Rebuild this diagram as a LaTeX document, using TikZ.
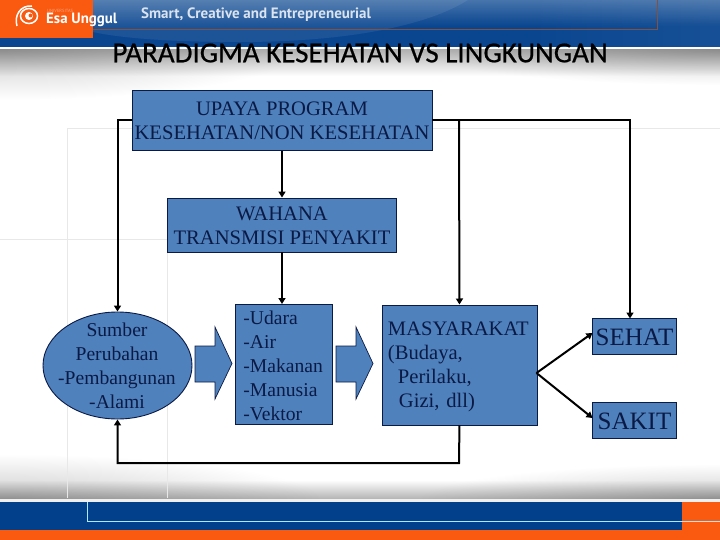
\documentclass[tikz,border=0pt]{standalone}
\usepackage{fontspec}
\setmainfont{Liberation Serif}
\newfontfamily\titlefont[FakeBold=0.6]{Carlito}
\newfontfamily\headfont{PT Sans}
\usetikzlibrary{arrows.meta,shapes.geometric,fadings}
\definecolor{boxblue}{HTML}{4F81BD}
\definecolor{navy}{HTML}{0B1A45}
\definecolor{headblue}{HTML}{0A4690}
\definecolor{headlight}{HTML}{5F88B4}
\definecolor{footblue}{HTML}{03408B}
\definecolor{esaorange}{HTML}{F95A10}
\pgfdeclarehorizontalshading{headshade}{100bp}{color(0bp)=(headblue); color(62bp)=(headblue); color(80bp)=(headblue!80!headlight); color(100bp)=(headlight)}
\tikzfading[name=fadedown, top color=transparent!75, bottom color=transparent!100]
\tikzfading[name=glow, inner color=transparent!80, outer color=transparent!100]
\tikzset{
  x=1pt,y=1pt,
  flowbox/.style={draw=navy,line width=0.9pt,fill=boxblue,text=navy,inner sep=0pt,align=center,font=\fontsize{20.6}{24}\selectfont},
  flowlabel/.style={text=navy,inner sep=0pt,align=center,font=\fontsize{19.6}{24}\selectfont},
  link/.style={draw=black,line width=2pt,-{Triangle[length=6pt,width=7pt]}},
  faint/.style={draw=black!9,line width=1pt},
  blockarrow/.style={draw=navy,line width=0.7pt,fill=boxblue}
}
\begin{document}
\begin{tikzpicture}
\useasboundingbox (0,0) rectangle (720,-540);
\fill[white] (0,0) rectangle (720,-540);
% header band
\shade[shading=headshade] (0,0) rectangle (720,-47);
\fill[white,path fading=fadedown] (0,0) rectangle (720,-26);
\fill[white,opacity=.08] (93,0) -- (468,0) .. controls (420,-30) and (330,-42) .. (240,-42) .. controls (170,-42) and (120,-38) .. (93,-32) -- cycle;
\draw[draw=black!45!headlight!60!esaorange,line width=1pt] (93,-30) -- (657,-30) -- (657,0);
\fill[esaorange] (0,0) rectangle (93,-38);
\fill[white] (0,-47.5) rectangle (720,-50);
% grey gradient below header
\shade[top color=black!30,bottom color=white] (0,-50) rectangle (720,-76);
\begin{scope}
\clip (0,-50) rectangle (720,-120);
\fill[black,path fading=glow,fit fading=true] (0,-50) ellipse[x radius=300,y radius=50];
\fill[black,path fading=glow,fit fading=true] (720,-50) ellipse[x radius=300,y radius=35];
\end{scope}
% bottom gradient
\shade[top color=white,bottom color=black!30] (0,-480) rectangle (720,-499);
\begin{scope}
\clip (0,-420) rectangle (720,-499);
\fill[black,path fading=glow,fit fading=true] (0,-499) ellipse[x radius=320,y radius=45];
\fill[black,path fading=glow,fit fading=true] (720,-499) ellipse[x radius=300,y radius=35];
\end{scope}
\fill[black!6] (0,-498.5) rectangle (720,-502);
% faint frame
\draw[faint] (720,-129) -- (67,-129) -- (67,-498);
\draw[faint] (0,-239) -- (167,-239) -- (167,-498);
% footer
\fill[footblue] (0,-502) rectangle (682,-530);
\fill[esaorange] (682,-502) rectangle (720,-530);
\fill[esaorange] (0,-530) rectangle (720,-540);
\draw[draw=blue!30!cyan!30!white,line width=1pt] (87.5,-502) -- (87.5,-521.5) -- (720,-521.5);
% logo
\draw[white,line width=1.5pt] (29,-16) ellipse[x radius=8.5,y radius=7.5];
\fill[white] (29,-16) circle[radius=4];
\fill[esaorange] (30.5,-15.5) circle[radius=2];
\draw[white,line width=1.5pt] (32,-6) .. controls (20,-5) and (14,-16) .. (17,-26);
\node[anchor=west,inner sep=0pt,text=esaorange!55!white,font=\headfont\fontsize{4.5}{5}\selectfont] (univ) at (47,-10.5) {UNIVERSITAS};
\node[anchor=west,inner sep=0pt,text=white,font=\headfont\bfseries\fontsize{14.9}{16}\selectfont] (esa) at (46,-20) {Esa Unggul};
\node[anchor=west,inner sep=0pt,text=white!85!headblue,font=\headfont\bfseries\fontsize{15}{17}\selectfont] (motto) at (141,-15) {Smart, Creative and Entrepreneurial};
% title
\node[inner sep=0pt,text=black,font=\titlefont\fontsize{29}{32}\selectfont] (title) at (360,-53) {PARADIGMA KESEHATAN VS LINGKUNGAN};
% nodes
\node[flowbox,minimum width=300pt,minimum height=60pt] (program) at (282,-120.5) {UPAYA PROGRAM\\KESEHATAN/NON KESEHATAN};
\node[flowbox,minimum width=228.5pt,minimum height=54pt] (wahana) at (282,-225) {\rule{0pt}{16pt}WAHANA\\TRANSMISI PENYAKIT};
\node[draw=navy,line width=0.9pt,fill=boxblue,ellipse,inner sep=0pt,minimum width=149pt,minimum height=107pt] (sumber) at (117.5,-365.5) {};
\node[flowlabel] (sumbertext) at (117,-365.5) {Sumber\\Perubahan\\-Pembangunan\\-Alami};
\node[flowbox,font=\fontsize{19.6}{24}\selectfont,minimum width=97pt,minimum height=120pt,align=left,anchor=north west,text width=81pt,inner xsep=8pt] (media) at (235,-304) {\rule{0pt}{15.5pt}-Udara\\-Air\\-Makanan\\-Manusia\\-Vektor};
\node[flowbox,minimum width=155pt,minimum height=120pt,align=left,anchor=north west,text width=143pt,inner xsep=6pt] (masyarakat) at (381.5,-304.5) {\rule{0pt}{17pt}MASYARAKAT\\(Budaya,\\\hspace*{10pt}Perilaku,\\\hspace*{11pt}Gizi, dll)};
\node[flowbox,minimum width=84pt,minimum height=35.5pt,font=\fontsize{25}{26}\selectfont] (sehat) at (634.5,-336.25) {\rule{0pt}{18.5pt}SEHAT};
\node[flowbox,minimum width=84pt,minimum height=35.5pt,font=\fontsize{25}{26}\selectfont] (sakit) at (634.5,-420.25) {\rule{0pt}{18.5pt}SAKIT};
% block arrows
\draw[blockarrow] (195,-346) -- (215,-346) -- (215,-327) -- (232,-363.5) -- (215,-399) -- (215,-382) -- (195,-382) -- cycle;
\draw[blockarrow] (336,-346) -- (356,-346) -- (356,-327) -- (373,-363.5) -- (356,-399) -- (356,-382) -- (336,-382) -- cycle;
% connector ends
\coordinate (sehatin) at (630,-318.5);
\coordinate (sehatleft) at (592.5,-333);
\coordinate (sakitleft) at (592.5,-418);
\coordinate (branch) at (459,-120.5);
\coordinate (outmas) at (536.5,-373);
\coordinate (feedcorner) at (459,-463);
% connectors
\draw[link] (program.south) -- (wahana.north);
\draw[link] (wahana.south) -- (wahana.south |- media.north);
\draw[link] (program.west) -| (sumber.north);
\draw[link] (program.east) -| (sehatin);
\draw[link] (branch) -- (masyarakat.north);
\draw[link] (masyarakat.south) -- (feedcorner) -| (sumber.south);
\draw[link] (outmas) -- (sehatleft);
\draw[link] (outmas) -- (sakitleft);
\end{tikzpicture}
\end{document}
